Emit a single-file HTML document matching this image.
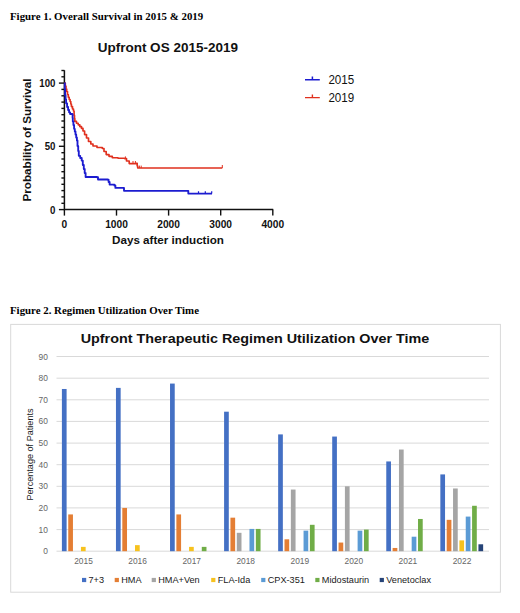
<!DOCTYPE html>
<html><head><meta charset="utf-8"><title>Figures</title>
<style>
html,body{margin:0;padding:0;background:#fff;}
body{width:520px;height:613px;overflow:hidden;position:relative;font-family:"Liberation Sans",sans-serif;}
.cap{position:absolute;left:10px;font-family:"Liberation Serif",serif;font-weight:bold;font-size:10.85px;color:#000;white-space:nowrap;line-height:12px;}
svg{position:absolute;left:0;top:0;}
svg text{font-family:"Liberation Sans",sans-serif;fill:#111;}
.b10{font-weight:bold;font-size:10.2px;}
.b115{font-weight:bold;font-size:11.65px;}
.t1{font-weight:bold;font-size:13.5px;}
.t2{font-weight:bold;font-size:12.35px;fill:#111;}
.l12{font-size:11.9px;}
svg text.ax{font-size:8.4px;fill:#666;}
svg text.yl{font-size:9.1px;fill:#1a1a1a;}
svg text.lg{font-size:8.2px;fill:#1a1a1a;}
</style></head><body>
<div class="cap" style="top:10px;">Figure 1. Overall Survival in 2015 &amp; 2019</div>
<div class="cap" style="top:303.5px;">Figure 2. Regimen Utilization Over Time</div>
<svg width="520" height="613" viewBox="0 0 520 613">
<path d="M64.4 70.2V209.6H273.2" fill="none" stroke="#111" stroke-width="1.5"/>
<path d="M58.9 209.6H64.4" stroke="#111" stroke-width="1.4"/>
<path d="M61.4 203.3H64.4" stroke="#111" stroke-width="1.4"/>
<path d="M61.4 196.9H64.4" stroke="#111" stroke-width="1.4"/>
<path d="M61.4 190.6H64.4" stroke="#111" stroke-width="1.4"/>
<path d="M61.4 184.3H64.4" stroke="#111" stroke-width="1.4"/>
<path d="M61.4 178.0H64.4" stroke="#111" stroke-width="1.4"/>
<path d="M61.4 171.7H64.4" stroke="#111" stroke-width="1.4"/>
<path d="M61.4 165.3H64.4" stroke="#111" stroke-width="1.4"/>
<path d="M61.4 159.0H64.4" stroke="#111" stroke-width="1.4"/>
<path d="M61.4 152.7H64.4" stroke="#111" stroke-width="1.4"/>
<path d="M58.9 146.3H64.4" stroke="#111" stroke-width="1.4"/>
<path d="M61.4 140.0H64.4" stroke="#111" stroke-width="1.4"/>
<path d="M61.4 133.7H64.4" stroke="#111" stroke-width="1.4"/>
<path d="M61.4 127.4H64.4" stroke="#111" stroke-width="1.4"/>
<path d="M61.4 121.0H64.4" stroke="#111" stroke-width="1.4"/>
<path d="M61.4 114.7H64.4" stroke="#111" stroke-width="1.4"/>
<path d="M61.4 108.4H64.4" stroke="#111" stroke-width="1.4"/>
<path d="M61.4 102.1H64.4" stroke="#111" stroke-width="1.4"/>
<path d="M61.4 95.8H64.4" stroke="#111" stroke-width="1.4"/>
<path d="M61.4 89.4H64.4" stroke="#111" stroke-width="1.4"/>
<path d="M58.9 83.1H64.4" stroke="#111" stroke-width="1.4"/>
<path d="M61.4 76.8H64.4" stroke="#111" stroke-width="1.4"/>
<path d="M61.4 70.5H64.4" stroke="#111" stroke-width="1.4"/>
<path d="M64.4 209.6V215.6" stroke="#111" stroke-width="1.4"/>
<text x="64.4" y="227.6" text-anchor="middle" class="b10">0</text>
<path d="M116.5 209.6V215.6" stroke="#111" stroke-width="1.4"/>
<text x="116.5" y="227.6" text-anchor="middle" class="b10">1000</text>
<path d="M168.6 209.6V215.6" stroke="#111" stroke-width="1.4"/>
<text x="168.6" y="227.6" text-anchor="middle" class="b10">2000</text>
<path d="M220.7 209.6V215.6" stroke="#111" stroke-width="1.4"/>
<text x="220.7" y="227.6" text-anchor="middle" class="b10">3000</text>
<path d="M272.8 209.6V215.6" stroke="#111" stroke-width="1.4"/>
<text x="272.8" y="227.6" text-anchor="middle" class="b10">4000</text>
<text transform="translate(55.5,213.5) scale(0.95,1)" text-anchor="end" class="b10">0</text>
<text transform="translate(55.5,150.2) scale(0.95,1)" text-anchor="end" class="b10">50</text>
<text transform="translate(55.5,87.0) scale(0.95,1)" text-anchor="end" class="b10">100</text>
<path d="M64.6 83.0H65.3V86.0H66.0V89.0H66.7V91.5H67.5V94.5H68.3V97.2H69.2V99.5H70.1V101.5H70.8V104.0H71.4V106.6H72.5V109.0H73.5V111.0H74.1V115.4H74.5V118.5H74.8V121.4H76.5V123.2H78.2V124.8H79.8V126.6H81.5V128.4H83.0V131.0H84.6V134.6H86.5V138.0H88.5V141.5H90.8V144.0H93.0V146.0H97.0V147.5H102.3V148.5H104.0V151.5H106.2V154.6H109.0V156.3H112.3V157.7H118.0V158.2H124.6V158.6H126.5V161.0H129.2V163.6H136.2V163.2H137.2V166.0H137.7V168.0H222.3V168.0" fill="none" stroke="#e0301e" stroke-width="1.65" stroke-linejoin="round"/>
<path d="M64.6 83.0H64.8V89.0H65.1V95.2H65.6V99.5H66.1V103.3H67.1V107.0H68.1V110.0H69.1V112.3H70.1V114.0H72.4V114.3H72.6V118.0H72.8V121.4H73.4V125.0H74.1V128.8H74.8V131.5H75.5V134.5H76.2V137.5H76.9V140.4H77.5V146.0H78.2V151.0H78.8V155.8H80.2V158.0H81.7V160.6H82.8V165.0H83.8V169.0H84.7V173.0H85.6V177.0H97.0V177.2H98.0V179.5H107.7V179.7H108.6V182.0H109.6V184.6H114.4V185.5H115.4V187.9H123.0V187.9H124.0V190.8H188.0V190.8H188.3V193.6H212.0V193.6" fill="none" stroke="#1c1cd0" stroke-width="1.85" stroke-linejoin="round"/>
<path d="M222.3 165V168M125.4 156.4V158.6M133 161V163.4M135.4 161V163.4M139.4 165.6V168M141.2 165.6V168" stroke="#e0301e" stroke-width="1"/>
<path d="M198.5 191.3V193.6M205.3 191.3V193.6M211.7 191.3V193.6" stroke="#1c1cd0" stroke-width="1.2"/>
<text x="167.8" y="52.3" text-anchor="middle" class="t1">Upfront OS 2015-2019</text>
<text x="168" y="243.8" text-anchor="middle" class="b115">Days after induction</text>
<text transform="translate(30.8,140) rotate(-90)" text-anchor="middle" class="b115">Probability of Survival</text>
<path d="M305 79.8H319.8M312.4 76.6V79.8" stroke="#1c1cd0" stroke-width="1.5" fill="none"/>
<path d="M305 97.6H319.8M312.4 94.4V97.6" stroke="#e0301e" stroke-width="1.4" fill="none"/>
<text transform="translate(328.4,83.9) scale(0.975,1)" class="l12">2015</text>
<text transform="translate(328.4,102.1) scale(0.975,1)" class="l12">2019</text>
<rect x="10.7" y="324.4" width="489.7" height="267.8" fill="#fff" stroke="#d9d9d9" stroke-width="1"/>
<text transform="translate(255,342.6) scale(1.165,1)" text-anchor="middle" class="t2">Upfront Therapeutic Regimen Utilization Over Time</text>
<path d="M56.5 551.2H489" stroke="#d9d9d9" stroke-width="1"/>
<text x="47.8" y="554.2" text-anchor="end" class="ax">0</text>
<path d="M56.5 529.6H489" stroke="#d9d9d9" stroke-width="1"/>
<text x="47.8" y="532.6" text-anchor="end" class="ax">10</text>
<path d="M56.5 507.9H489" stroke="#d9d9d9" stroke-width="1"/>
<text x="47.8" y="510.9" text-anchor="end" class="ax">20</text>
<path d="M56.5 486.3H489" stroke="#d9d9d9" stroke-width="1"/>
<text x="47.8" y="489.3" text-anchor="end" class="ax">30</text>
<path d="M56.5 464.7H489" stroke="#d9d9d9" stroke-width="1"/>
<text x="47.8" y="467.7" text-anchor="end" class="ax">40</text>
<path d="M56.5 443.1H489" stroke="#d9d9d9" stroke-width="1"/>
<text x="47.8" y="446.1" text-anchor="end" class="ax">50</text>
<path d="M56.5 421.4H489" stroke="#d9d9d9" stroke-width="1"/>
<text x="47.8" y="424.4" text-anchor="end" class="ax">60</text>
<path d="M56.5 399.8H489" stroke="#d9d9d9" stroke-width="1"/>
<text x="47.8" y="402.8" text-anchor="end" class="ax">70</text>
<path d="M56.5 378.2H489" stroke="#d9d9d9" stroke-width="1"/>
<text x="47.8" y="381.2" text-anchor="end" class="ax">80</text>
<path d="M56.5 356.5H489" stroke="#d9d9d9" stroke-width="1"/>
<text x="47.8" y="359.5" text-anchor="end" class="ax">90</text>
<text x="83.5" y="564.4" text-anchor="middle" class="ax">2015</text>
<rect x="61.90" y="388.98" width="4.7" height="162.22" fill="#4470c4"/>
<rect x="68.25" y="514.43" width="4.7" height="36.77" fill="#e47e34"/>
<rect x="80.95" y="546.87" width="4.7" height="4.33" fill="#f7c21e"/>
<text x="137.6" y="564.4" text-anchor="middle" class="ax">2016</text>
<rect x="115.96" y="387.89" width="4.7" height="163.31" fill="#4470c4"/>
<rect x="122.31" y="507.94" width="4.7" height="43.26" fill="#e47e34"/>
<rect x="135.01" y="545.14" width="4.7" height="6.06" fill="#f7c21e"/>
<text x="191.7" y="564.4" text-anchor="middle" class="ax">2017</text>
<rect x="170.03" y="383.57" width="4.7" height="167.63" fill="#4470c4"/>
<rect x="176.38" y="514.43" width="4.7" height="36.77" fill="#e47e34"/>
<rect x="189.07" y="546.87" width="4.7" height="4.33" fill="#f7c21e"/>
<rect x="201.78" y="546.87" width="4.7" height="4.33" fill="#70ad47"/>
<text x="245.7" y="564.4" text-anchor="middle" class="ax">2018</text>
<rect x="224.09" y="411.69" width="4.7" height="139.51" fill="#4470c4"/>
<rect x="230.44" y="517.67" width="4.7" height="33.53" fill="#e47e34"/>
<rect x="236.79" y="532.81" width="4.7" height="18.39" fill="#a5a5a5"/>
<rect x="249.49" y="528.92" width="4.7" height="22.28" fill="#5b9bd5"/>
<rect x="255.84" y="528.92" width="4.7" height="22.28" fill="#70ad47"/>
<text x="299.8" y="564.4" text-anchor="middle" class="ax">2019</text>
<rect x="278.15" y="434.40" width="4.7" height="116.80" fill="#4470c4"/>
<rect x="284.50" y="539.30" width="4.7" height="11.90" fill="#e47e34"/>
<rect x="290.85" y="489.55" width="4.7" height="61.65" fill="#a5a5a5"/>
<rect x="303.55" y="530.65" width="4.7" height="20.55" fill="#5b9bd5"/>
<rect x="309.90" y="524.81" width="4.7" height="26.39" fill="#70ad47"/>
<text x="353.8" y="564.4" text-anchor="middle" class="ax">2020</text>
<rect x="332.21" y="436.56" width="4.7" height="114.64" fill="#4470c4"/>
<rect x="338.56" y="542.55" width="4.7" height="8.65" fill="#e47e34"/>
<rect x="344.91" y="486.31" width="4.7" height="64.89" fill="#a5a5a5"/>
<rect x="357.61" y="530.65" width="4.7" height="20.55" fill="#5b9bd5"/>
<rect x="363.96" y="529.57" width="4.7" height="21.63" fill="#70ad47"/>
<text x="407.9" y="564.4" text-anchor="middle" class="ax">2021</text>
<rect x="386.27" y="461.44" width="4.7" height="89.76" fill="#4470c4"/>
<rect x="392.62" y="547.96" width="4.7" height="3.24" fill="#e47e34"/>
<rect x="398.97" y="449.54" width="4.7" height="101.66" fill="#a5a5a5"/>
<rect x="411.67" y="536.71" width="4.7" height="14.49" fill="#5b9bd5"/>
<rect x="418.02" y="518.97" width="4.7" height="32.23" fill="#70ad47"/>
<text x="462.0" y="564.4" text-anchor="middle" class="ax">2022</text>
<rect x="440.34" y="474.41" width="4.7" height="76.79" fill="#4470c4"/>
<rect x="446.69" y="519.84" width="4.7" height="31.36" fill="#e47e34"/>
<rect x="453.04" y="488.47" width="4.7" height="62.73" fill="#a5a5a5"/>
<rect x="459.39" y="540.38" width="4.7" height="10.81" fill="#f7c21e"/>
<rect x="465.74" y="516.59" width="4.7" height="34.61" fill="#5b9bd5"/>
<rect x="472.09" y="505.78" width="4.7" height="45.42" fill="#70ad47"/>
<rect x="478.44" y="544.28" width="4.7" height="6.92" fill="#264478"/>
<text transform="translate(32.9,454.5) rotate(-90)" text-anchor="middle" class="yl">Percentage of Patients</text>
<rect x="82.0" y="577.9" width="4.2" height="4.2" fill="#4470c4"/>
<text transform="translate(88.5,582.5) scale(1.12,1)" class="lg">7+3</text>
<rect x="114.7" y="577.9" width="4.2" height="4.2" fill="#e47e34"/>
<text transform="translate(121.2,582.5) scale(1.12,1)" class="lg">HMA</text>
<rect x="151.7" y="577.9" width="4.2" height="4.2" fill="#a5a5a5"/>
<text transform="translate(158.2,582.5) scale(1.12,1)" class="lg">HMA+Ven</text>
<rect x="211.2" y="577.9" width="4.2" height="4.2" fill="#f7c21e"/>
<text transform="translate(217.7,582.5) scale(1.12,1)" class="lg">FLA-Ida</text>
<rect x="261.2" y="577.9" width="4.2" height="4.2" fill="#5b9bd5"/>
<text transform="translate(267.7,582.5) scale(1.12,1)" class="lg">CPX-351</text>
<rect x="315.3" y="577.9" width="4.2" height="4.2" fill="#70ad47"/>
<text transform="translate(321.8,582.5) scale(1.12,1)" class="lg">Midostaurin</text>
<rect x="379.7" y="577.9" width="4.2" height="4.2" fill="#264478"/>
<text transform="translate(386.2,582.5) scale(1.12,1)" class="lg">Venetoclax</text>
</svg>
</body></html>
